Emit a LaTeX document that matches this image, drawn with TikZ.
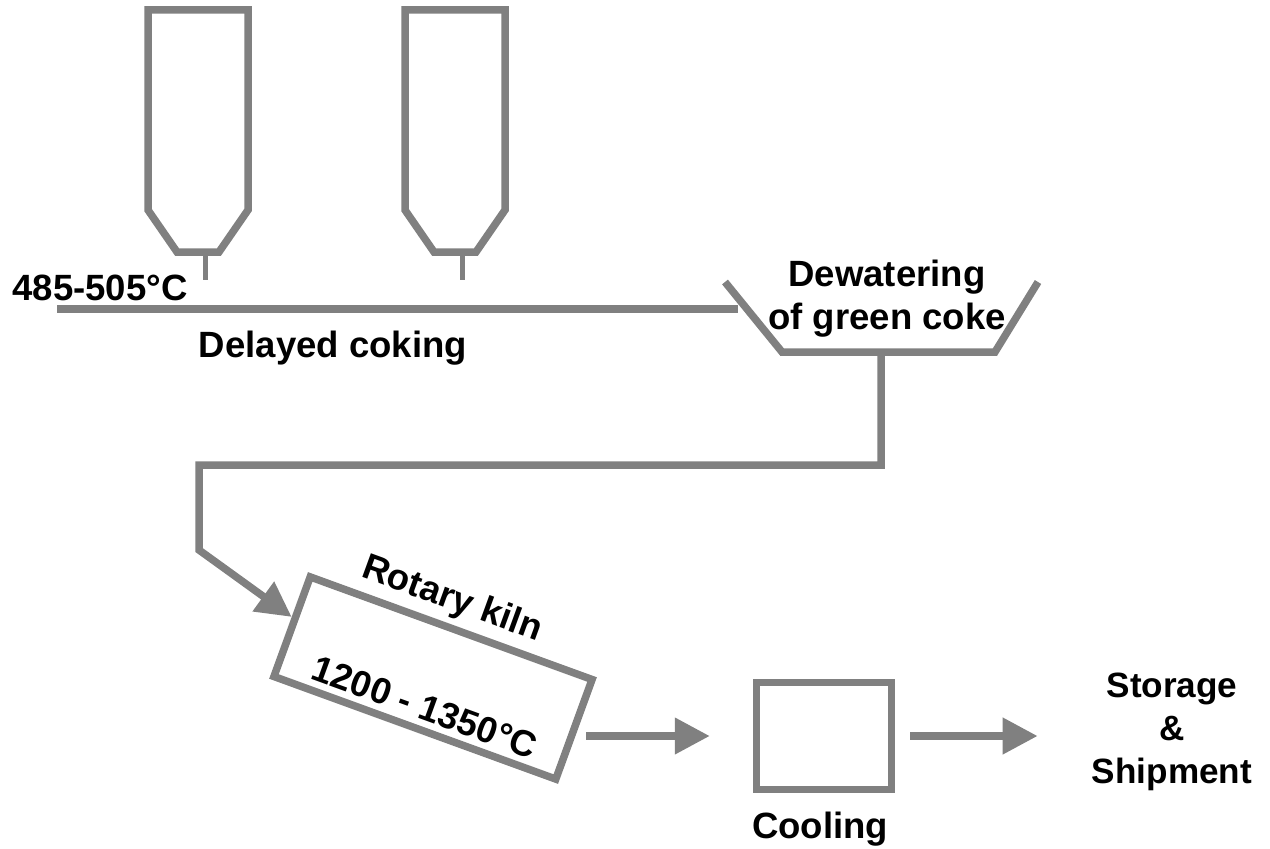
\documentclass[tikz,border=0pt]{standalone}
\usepackage{fontspec}
\setmainfont{Liberation Sans}
\usepackage{xcolor}
\usepackage{tikz}
\usetikzlibrary{arrows.meta, positioning, calc}

\definecolor{pipegray}{RGB}{128,128,128}

\begin{document}
\begin{tikzpicture}[
    x=0.02cm, y=-0.02cm,
    pipe/.style={draw=pipegray, line width=0.15cm},
    stem/.style={draw=pipegray, line width=0.1cm},
    label/.style={font=\fontsize{20.8}{24.4}\selectfont\bfseries, align=center, inner sep=0pt},
    unitbox/.style={draw=pipegray, line width=0.15cm},
    kilnbox/.style={unitbox, minimum width=6cm, minimum height=2.12cm, rotate=-20},
    coolbox/.style={unitbox, minimum width=2.7cm, minimum height=2.14cm},
    flow/.style={pipe, -{Triangle[length=0.7cm, width=0.7cm]}}
]
    \useasboundingbox (0,0) rectangle (1270,848);

    % Two coke drums standing over the feed line.
    \draw[pipe] (148,10) -- (248,10) -- (248,210) -- (219,252) -- (177,252) -- (148,210) -- cycle;
    \draw[stem] (205,252) -- (205,280);
    \draw[pipe] (405,10) -- (505,10) -- (505,210) -- (476,252) -- (434,252) -- (405,210) -- cycle;
    \draw[stem] (462,252) -- (462,280);

    \node[label, anchor=base] (feedtemp) at (100,300) {485-505°C};
    \node[label, anchor=base] (coking) at (333,357) {Delayed coking};

    % Feed line and dewatering hopper.
    \coordinate (feedstart) at (57,309);
    \coordinate (feedend) at (738,309);
    \draw[pipe] (feedstart) -- (feedend);
    \draw[pipe] (725,282) -- (782,352) -- (995,352) -- (1038,282);
    \node[label] (dewater) at (887,299) {Dewatering\\of green coke};

    % Kiln, cooler and product.
    \node[kilnbox] (kiln) at (433,678) {};
    \node[label, rotate=-20] (kilnname) at (452,600) {Rotary kiln};
    \node[label, rotate=-20] (kilntemp) at (425,707) {1200 - 1350°C};

    \node[coolbox] (cool) at (824,736) {};
    \node[label, anchor=base] (coollabel) at (820,838) {Cooling};

    \node[label, font=\fontsize{20}{24.4}\selectfont\bfseries] (store) at (1172,732) {Storage\\\&\\Shipment};

    % Green coke travels from the hopper down to the kiln inlet.
    \coordinate (dewout) at (881,352);
    \coordinate (drop) at (199,550);
    \coordinate (kilnin) at ($(kiln.north west)!0.42!(kiln.south west)$);
    \draw[flow] (dewout) -- ++(0,113) -| (drop) -- (kilnin);

    \draw[flow, shorten <=0.18cm, shorten >=0.86cm] (kiln.east |- cool.west) -- (cool.west);
    \draw[flow, shorten <=0.3cm, shorten >=1.08cm] (cool.east) -- (cool.east -| store.west);

\end{tikzpicture}
\end{document}
